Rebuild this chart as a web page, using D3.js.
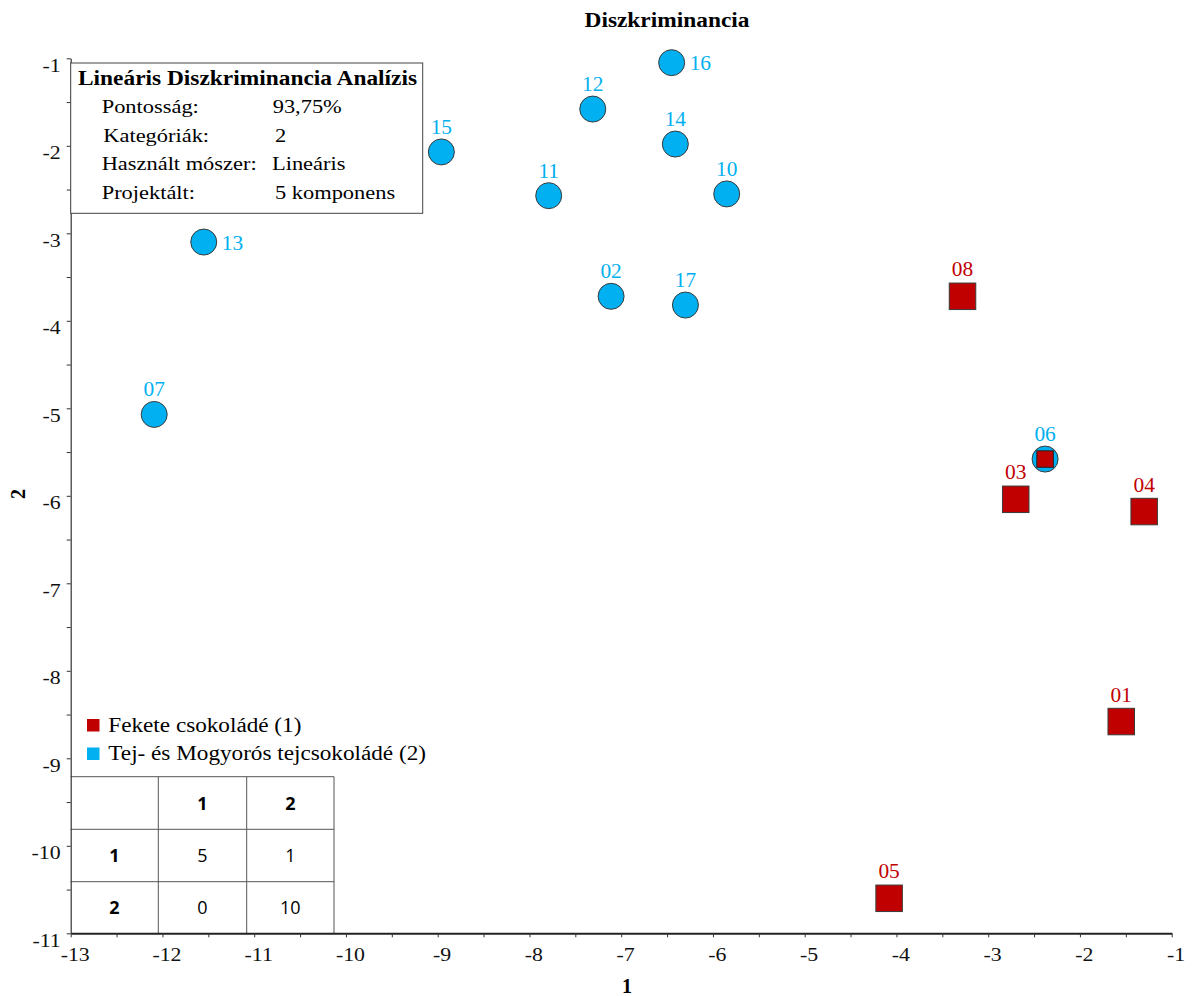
<!DOCTYPE html>
<html>
<head>
<meta charset="utf-8">
<script src="https://cdn.jsdelivr.net/npm/d3@7"></script>
<style>
  html, body { margin: 0; padding: 0; background: #fff; }
  svg { display: block; }
</style>
</head>
<body>
<svg id="chart" width="1194" height="996"></svg>
<script>
// LDA scores on the first two discriminant components
const sampleIds   = ["01", "02", "03", "04", "05", "06", "07", "08", "10", "11", "12", "13", "14", "15", "16", "17"];
const comp1       = [-1.55, -7.11, -2.70, -1.30, -4.08, -2.38, -12.09, -3.28, -5.85, -7.79, -7.31, -11.55, -6.41, -8.96, -6.45, -6.30];
const comp2       = [-8.58, -3.72, -6.04, -6.18, -10.60, -5.58, -5.07, -3.72, -2.55, -2.57, -1.58, -3.10, -1.98, -2.07, -1.05, -3.82];
const actualClass = [1, 2, 1, 1, 1, 1, 2, 1, 2, 2, 2, 2, 2, 2, 2, 2];
const predClass   = [1, 2, 1, 1, 1, 2, 2, 1, 2, 2, 2, 2, 2, 2, 2, 2];

// Class names for the legend
const classNames = ["Fekete csokoládé (1)", "Tej- és Mogyorós tejcsokoládé (2)"];

// Summary box
const summaryTitle  = "Lineáris Diszkriminancia Analízis";
const summaryKeys   = ["Pontosság:", "Kategóriák:", "Használt mószer:", "Projektált:"];
const summaryValues = ["93,75%", "2", "Lineáris", "5 komponens"];

// Confusion matrix (rows: actual, columns: predicted)
const matrixHeader = ["", "1", "2"];
const matrixRowLabels = ["1", "2"];
const matrixCounts = [[5, 1], [0, 10]];

// Axis ticks
const xTickValues = d3.range(-13, -0.9, 0.5);
const yTickValues = d3.range(-11, -0.9, 0.5);

const colors = { 1: "#C00000", 2: "#00B0F0" };
const SERIF = "'Liberation Serif', 'Times New Roman', serif";
const SANS = "'Open Sans', 'Liberation Sans', sans-serif";

const svg = d3.select("#chart");

const x = d3.scaleLinear().domain([-13, -1]).range([70.7, 1171.7]);
const y = d3.scaleLinear().domain([-11, -1]).range([933.3, 58.3]);

// widen serif text horizontally around its anchor point
function widen(sel, k) {
  sel.each(function () {
    const t = d3.select(this);
    const ax = +t.attr("x") || 0;
    t.attr("transform", `translate(${ax},0) scale(${k},1) translate(${-ax},0)`);
  });
  return sel;
}

function serifText(parent, txt, px, py, size, opts = {}) {
  const t = parent.append("text")
    .attr("x", px).attr("y", py)
    .style("font-family", SERIF)
    .style("font-size", size + "px")
    .style("font-weight", opts.bold ? "bold" : "normal")
    .attr("fill", opts.fill || "#000")
    .attr("text-anchor", opts.anchor || "start")
    .text(txt);
  if (opts.k) widen(t, opts.k);
  return t;
}

// ---- Title and axis titles
serifText(svg, "Diszkriminancia", 667, 27, 20, { bold: true, anchor: "middle", k: 1.17 });
serifText(svg, "1", 627, 993, 20, { bold: true, anchor: "middle" });
svg.append("text").attr("transform", "translate(25,494) rotate(-90)").attr("text-anchor", "middle")
  .style("font-family", SERIF).style("font-weight", "bold").style("font-size", "20px").attr("fill", "#000").text("2");

// ---- Confusion matrix table (lower-left corner of the plot)
const colEdges = [70.7, 158.3, 246.7, 334];
const rowEdges = [776.7, 829.3, 881.7, 933.3];
const table = svg.append("g").attr("class", "matrix");
const lineColor = "#555";
rowEdges.slice(0, 3).forEach(ry => {
  table.append("line").attr("x1", colEdges[0]).attr("x2", colEdges[3])
    .attr("y1", ry).attr("y2", ry).attr("stroke", lineColor).attr("stroke-width", 1);
});
colEdges.slice(1).forEach(cx => {
  table.append("line").attr("x1", cx).attr("x2", cx)
    .attr("y1", rowEdges[0]).attr("y2", rowEdges[3]).attr("stroke", lineColor).attr("stroke-width", 1);
});
const cellText = (txt, ci, ri, bold) => {
  table.append("text")
    .attr("x", (colEdges[ci] + colEdges[ci + 1]) / 2)
    .attr("y", (rowEdges[ri] + rowEdges[ri + 1]) / 2 + 6.5)
    .attr("text-anchor", "middle")
    .style("font-family", SANS)
    .style("font-size", "18px")
    .style("font-weight", bold ? "bold" : "normal")
    .attr("fill", "#000")
    .text(txt);
};
matrixHeader.forEach((h, ci) => cellText(h, ci, 0, true));
matrixRowLabels.forEach((r, ri) => {
  cellText(r, 0, ri + 1, true);
  matrixCounts[ri].forEach((v, ci) => cellText(String(v), ci + 1, ri + 1, false));
});

// ---- Axes
const xAxis = d3.axisBottom(x).tickValues(xTickValues).tickSize(4).tickSizeOuter(0)
  .tickFormat(d => Number.isInteger(d) ? String(d) : "");
const gx = svg.append("g").attr("transform", `translate(0,${y(-11)})`).call(xAxis);
gx.select(".domain").attr("stroke", "#222").attr("stroke-width", 2);
gx.selectAll(".tick line").attr("stroke", "#333").attr("stroke-width", 1);
gx.selectAll(".tick text").attr("y", 28).attr("dy", 0).attr("x", 4)
  .style("font-family", SERIF).style("font-size", "19px").attr("fill", "#111")
  .text(d => Number.isInteger(d) ? String(d).replace("\u2212", "-") : "");
widen(gx.selectAll(".tick text"), 1.15);

const yAxis = d3.axisLeft(y).tickValues(yTickValues).tickSize(4).tickSizeOuter(0)
  .tickFormat(d => Number.isInteger(d) ? String(d) : "");
const gy = svg.append("g").attr("transform", `translate(${x(-13)},0)`).call(yAxis);
gy.select(".domain").attr("stroke", "#333").attr("stroke-width", 1.2);
gy.selectAll(".tick line").attr("stroke", "#333").attr("stroke-width", 1);
gy.selectAll(".tick text").attr("x", -10).attr("dy", 0).attr("y", 13)
  .style("font-family", SERIF).style("font-size", "19px").attr("fill", "#111")
  .text(d => Number.isInteger(d) ? String(d).replace("\u2212", "-") : "");
widen(gy.selectAll(".tick text"), 1.15);

// ---- Summary box
const box = svg.append("g").attr("class", "summary");
box.append("rect").attr("x", x(-13)).attr("y", 63).attr("width", 422.7 - x(-13)).attr("height", 150.3)
  .attr("fill", "#fff").attr("stroke", "#444").attr("stroke-width", 1);
serifText(box, summaryTitle, 78, 85, 20, { bold: true, k: 1.17 });
const keyX = [101.7, 103.3, 101.7, 101.7];
const valX = [272.7, 275, 272, 275];
summaryKeys.forEach((k, i) => {
  const by = 113.3 + i * 28.6;
  serifText(box, k, keyX[i], by, 19.5, { k: 1.15 });
  serifText(box, summaryValues[i], valX[i], by, 19.5, { k: 1.15 });
});

// ---- Legend
const legend = svg.append("g").attr("class", "legend");
classNames.forEach((name, i) => {
  const ly = 719 + i * 28.5;
  legend.append("rect").attr("x", 87).attr("y", ly).attr("width", 12.5).attr("height", 12.5)
    .attr("fill", colors[i + 1]);
  serifText(legend, name, 108.3, ly + 13, 20, { k: 1.16 });
});

// ---- Points
const samples = sampleIds.map((id, i) => ({
  id, c1: comp1[i], c2: comp2[i], actual: actualClass[i], pred: predClass[i]
}));
const rightLabelled = new Set(["13", "16"]);
const pts = svg.append("g").attr("class", "points");
const R = 13, S = 26.5;

samples.forEach(s => {
  const cx = x(s.c1), cy = y(s.c2);
  const g = pts.append("g");
  if (s.pred === 2) {
    g.append("circle").attr("cx", cx).attr("cy", cy).attr("r", R)
      .attr("fill", colors[2]).attr("stroke", "#3a3a3a").attr("stroke-width", 1);
  } else {
    g.append("rect").attr("x", cx - S / 2).attr("y", cy - S / 2).attr("width", S).attr("height", S)
      .attr("fill", colors[1]).attr("stroke", "#3a3a3a").attr("stroke-width", 1);
  }
  // misclassified sample: small marker of its true class inside
  if (s.actual !== s.pred) {
    const s2 = 16.5;
    g.append("rect").attr("x", cx - s2 / 2).attr("y", cy - s2 / 2).attr("width", s2).attr("height", s2)
      .attr("fill", colors[s.actual]).attr("stroke", "#222").attr("stroke-width", 1);
  }
  if (rightLabelled.has(s.id)) {
    serifText(g, s.id, cx + 18, cy + 7.5, 20, { fill: colors[s.pred], k: 1.07 });
  } else {
    serifText(g, s.id, cx, cy - (s.pred === 2 ? 18 : 20), 20, { fill: colors[s.pred], anchor: "middle", k: 1.07 });
  }
});
</script>
</body>
</html>
